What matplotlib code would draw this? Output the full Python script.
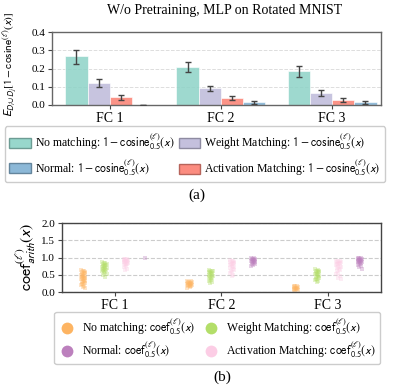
import numpy as np
import matplotlib
matplotlib.use("Agg")
import matplotlib.pyplot as plt
from matplotlib.patches import Patch
from matplotlib.lines import Line2D

plt.rcParams['font.family'] = 'serif'
plt.rcParams['font.serif'] = ['Liberation Serif', 'DejaVu Serif']
plt.rcParams['mathtext.fontset'] = 'stixsans'

layers = ['FC 1', 'FC 2', 'FC 3']
methods = ['No matching', 'Weight Matching', 'Activation Matching', 'Normal']

# (a) mean of 1 - cosine, with error bar low/high
cos_mean = {
    'No matching':         [0.267, 0.209, 0.184],
    'Weight Matching':     [0.120, 0.092, 0.065],
    'Activation Matching': [0.043, 0.040, 0.029],
    'Normal':              [0.001, 0.016, 0.016],
}
cos_lo = {
    'No matching':         [0.227, 0.180, 0.151],
    'Weight Matching':     [0.096, 0.075, 0.049],
    'Activation Matching': [0.027, 0.027, 0.016],
    'Normal':              [0.000, 0.007, 0.005],
}
cos_hi = {
    'No matching':         [0.304, 0.233, 0.213],
    'Weight Matching':     [0.140, 0.105, 0.080],
    'Activation Matching': [0.053, 0.051, 0.040],
    'Normal':              [0.002, 0.022, 0.024],
}

# (b) coef samples per layer
coef_none = [
    [0.63, 0.61, 0.60, 0.58, 0.57, 0.55, 0.54, 0.52, 0.50, 0.49, 0.47, 0.46, 0.45, 0.44, 0.42, 0.41,
     0.40, 0.38, 0.37, 0.35, 0.33, 0.31, 0.30, 0.28, 0.26, 0.24, 0.22, 0.20, 0.17, 0.14, 0.12],
    [0.32, 0.31, 0.30, 0.29, 0.28, 0.27, 0.26, 0.25, 0.24, 0.23, 0.22, 0.21, 0.20, 0.19, 0.18, 0.17,
     0.16, 0.14, 0.12],
    [0.18, 0.17, 0.16, 0.15, 0.14, 0.13, 0.12, 0.11, 0.10, 0.09, 0.08, 0.07, 0.06, 0.05],
]
coef_weight = [
    [0.86, 0.85, 0.83, 0.82, 0.80, 0.79, 0.78, 0.76, 0.75, 0.74, 0.72, 0.71, 0.70, 0.68, 0.67, 0.65,
     0.63, 0.62, 0.60, 0.58, 0.55, 0.52, 0.49, 0.45],
    [0.64, 0.62, 0.61, 0.60, 0.58, 0.57, 0.55, 0.54, 0.52, 0.50, 0.49, 0.47, 0.46, 0.44, 0.42, 0.40,
     0.38, 0.36, 0.33, 0.30, 0.27],
    [0.66, 0.64, 0.62, 0.61, 0.60, 0.58, 0.57, 0.55, 0.53, 0.52, 0.50, 0.48, 0.46, 0.45, 0.43, 0.41,
     0.39, 0.37, 0.34, 0.31, 0.28],
]
coef_act = [
    [0.97, 0.96, 0.95, 0.94, 0.93, 0.92, 0.91, 0.90, 0.89, 0.88, 0.87, 0.86, 0.85, 0.83, 0.82, 0.80,
     0.78, 0.75, 0.72, 0.68, 0.64],
    [0.92, 0.91, 0.90, 0.88, 0.87, 0.85, 0.83, 0.82, 0.80, 0.78, 0.76, 0.74, 0.72, 0.70, 0.68, 0.65,
     0.62, 0.58, 0.54, 0.50, 0.46],
    [0.91, 0.90, 0.89, 0.88, 0.86, 0.85, 0.83, 0.82, 0.80, 0.78, 0.76, 0.74, 0.72, 0.70, 0.67, 0.64,
     0.60, 0.56, 0.52, 0.47, 0.42, 0.38],
]
coef_normal = [
    [1.00],
    [1.00, 0.98, 0.97, 0.96, 0.95, 0.94, 0.93, 0.92, 0.91, 0.90, 0.89, 0.88, 0.87, 0.86, 0.84, 0.82,
     0.80, 0.78, 0.75],
    [1.00, 0.99, 0.98, 0.97, 0.96, 0.95, 0.94, 0.93, 0.92, 0.91, 0.90, 0.89, 0.88, 0.87, 0.86, 0.85,
     0.83, 0.81, 0.79, 0.76, 0.72, 0.68],
]

bar_colors = {'No matching': '#8dd3c7', 'Weight Matching': '#bebada',
              'Activation Matching': '#fb8072', 'Normal': '#80b1d3'}
pt_colors = {'No matching': '#fdb462', 'Weight Matching': '#b3de69',
             'Activation Matching': '#fccde5', 'Normal': '#bc80bd'}

def darker(c, f=0.7):
    r = np.array(matplotlib.colors.to_rgb(c))
    return tuple(r * f)

fig = plt.figure(figsize=(3.94, 3.86), dpi=100)

# ---------------- (a) bars
ax1 = fig.add_axes([0.132, 0.728, 0.835, 0.189])
x = np.arange(len(layers))
w = 0.2
offs = [-0.3, -0.1, 0.1, 0.3]
for m, o in zip(methods, offs):
    mean = np.array(cos_mean[m])
    err = [mean - np.array(cos_lo[m]), np.array(cos_hi[m]) - mean]
    ax1.bar(x + o, mean, w, color=bar_colors[m], alpha=0.85, edgecolor='white', linewidth=0.5, zorder=2)
    ax1.errorbar(x + o, mean, yerr=err, fmt='none', ecolor='#444444', elinewidth=1.0,
                 capsize=2.5, capthick=1.0, zorder=3)
ax1.set_xlim(-0.52, 2.44)
ax1.set_ylim(0, 0.4)
ax1.set_yticks([0.0, 0.1, 0.2, 0.3, 0.4])
ax1.set_yticklabels(['0.0', '0.1', '0.2', '0.3', '0.4'], fontsize=8)
ax1.set_xticks(x)
ax1.set_xticklabels(layers, fontsize=10)
ax1.yaxis.grid(True, linestyle='--', color='#dddddd', linewidth=0.7, zorder=0)
ax1.set_axisbelow(True)
for s in ax1.spines.values():
    s.set_color('#666666')
    s.set_linewidth(1.0)
ax1.tick_params(axis='both', length=3, color='#444444', pad=2)
ax1.set_ylabel(r'$E_{D_i\cup D_j}[1-\mathrm{cosine}^{(\ell)}(\boldsymbol{x})]$', fontsize=8.2)
ax1.yaxis.set_label_coords(-0.1, 0.56)

fig.text(0.569, 0.972, 'W/o Pretraining, MLP on Rotated MNIST', ha='center', va='center', fontsize=10)

leg_order = ['No matching', 'Normal', 'Weight Matching', 'Activation Matching']
h1 = [Patch(facecolor=bar_colors[m], alpha=0.9, edgecolor=darker(bar_colors[m]), linewidth=1.0)
      for m in leg_order]
l1 = [m + r': $1-\mathrm{cosine}^{(\ell)}_{0.5}(\boldsymbol{x})$' for m in leg_order]
fig.legend(h1, l1, loc='center', bbox_to_anchor=(0.495, 0.6), ncol=2, fontsize=8.5,
           handlelength=1.8, handleheight=0.9, columnspacing=0.3, handletextpad=0.4,
           labelspacing=0.45, borderpad=0.4, fancybox=True, edgecolor='#cccccc', framealpha=1)
fig.text(0.5, 0.495, '(a)', ha='center', va='center', fontsize=11)

# ---------------- (b) strip
ax2 = fig.add_axes([0.157, 0.2435, 0.81, 0.1785])
jit = [-0.02, 0.01, -0.005, 0.02, -0.015, 0.005, 0.015, -0.01, 0.0]
samples = {'No matching': coef_none, 'Weight Matching': coef_weight,
           'Activation Matching': coef_act, 'Normal': coef_normal}
for m, o in zip(methods, offs):
    for i in range(len(layers)):
        ys = samples[m][i]
        xs = [i + o + jit[k % len(jit)] for k in range(len(ys))]
        ax2.scatter(xs, ys, s=8, color=pt_colors[m], alpha=0.35, linewidths=0, marker='s', zorder=2)
ax2.set_xlim(-0.5, 2.5)
ax2.set_ylim(0, 2.0)
ax2.set_yticks([0.0, 0.5, 1.0, 1.5, 2.0])
ax2.set_yticklabels(['0.0', '0.5', '1.0', '1.5', '2.0'], fontsize=8)
ax2.set_xticks(x)
ax2.set_xticklabels(layers, fontsize=10)
ax2.yaxis.grid(True, linestyle='--', color='#cccccc', linewidth=0.8, zorder=0)
ax2.set_axisbelow(True)
for s in ax2.spines.values():
    s.set_color('#444444')
    s.set_linewidth(1.0)
ax2.tick_params(axis='both', length=3, color='#444444', pad=2)
ax2.set_ylabel(r'$\mathrm{coef}^{(\ell)}_{arith}(\boldsymbol{x})$', fontsize=11.5, labelpad=2)

h2 = [Line2D([], [], linestyle='none', marker='o', markersize=8.5, markerfacecolor=pt_colors[m],
             markeredgecolor='none') for m in leg_order]
l2 = [m + r': $\mathrm{coef}^{(\ell)}_{0.5}(\boldsymbol{x})$' for m in leg_order]
fig.legend(h2, l2, loc='center', bbox_to_anchor=(0.551, 0.124), ncol=2, fontsize=8.5,
           handlelength=1.5, columnspacing=0.6, handletextpad=0.5,
           labelspacing=0.25, borderpad=0.35, fancybox=True, edgecolor='#cccccc', framealpha=1)
fig.text(0.563, 0.023, '(b)', ha='center', va='center', fontsize=11)

fig.savefig('out.png', dpi=100)
